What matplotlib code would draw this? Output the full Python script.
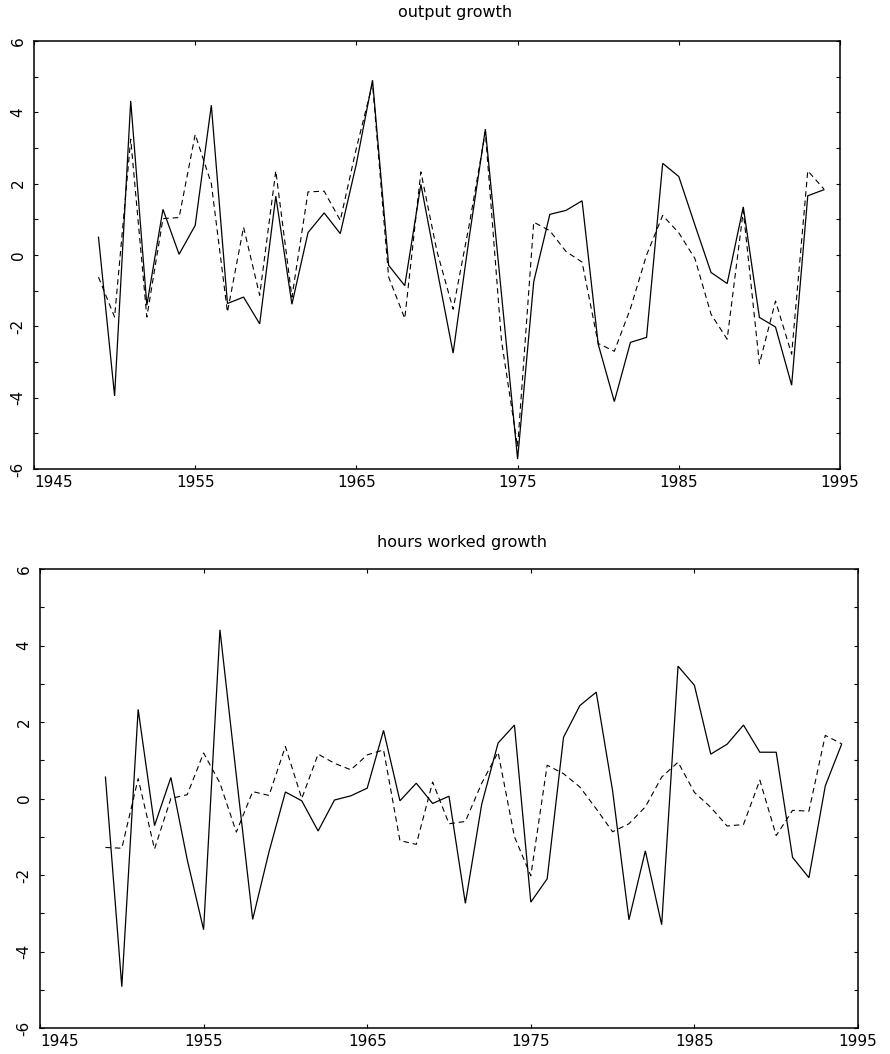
import matplotlib
matplotlib.use("Agg")
import matplotlib.pyplot as plt
import numpy as np

years = list(range(1949, 1995))

output_solid = [0.50, -3.95, 4.32, -1.41, 1.28, 0.02, 0.83, 4.20, -1.36, -1.18,
                -1.93, 1.65, -1.38, 0.63, 1.18, 0.60, 2.56, 4.90, -0.29, -0.86,
                1.98, -0.40, -2.75, 0.50, 3.53, -1.10, -5.72, -0.75, 1.14, 1.25,
                1.52, -2.50, -4.11, -2.45, -2.31, 2.57, 2.20, 0.84, -0.49, -0.80,
                1.35, -1.75, -2.02, -3.65, 1.66, 1.83]
output_dashed = [-0.62, -1.74, 3.25, -1.74, 1.02, 1.05, 3.38, 2.00, -1.60, 0.78,
                 -1.13, 2.36, -1.18, 1.77, 1.79, 0.97, 3.00, 4.80, -0.62, -1.78,
                 2.33, 0.10, -1.52, 0.85, 3.45, -2.40, -5.38, 0.92, 0.68, 0.10,
                 -0.20, -2.48, -2.70, -1.50, 0.00, 1.11, 0.62, -0.10, -1.66, -2.36,
                 1.24, -3.05, -1.29, -2.78, 2.36, 1.85]
hours_solid = [0.56, -4.92, 2.33, -0.71, 0.55, -1.60, -3.43, 4.41, 0.60, -3.16,
               -1.39, 0.17, -0.06, -0.85, -0.04, 0.07, 0.27, 1.78, -0.06, 0.40,
               -0.13, 0.06, -2.74, -0.15, 1.45, 1.92, -2.71, -2.10, 1.60, 2.43,
               2.78, 0.20, -3.17, -1.37, -3.30, 3.46, 2.96, 1.16, 1.42, 1.92,
               1.21, 1.21, -1.54, -2.07, 0.33, 1.42]
hours_dashed = [-1.28, -1.30, 0.52, -1.32, 0.00, 0.10, 1.19, 0.40, -0.88, 0.18,
                0.08, 1.36, 0.00, 1.16, 0.92, 0.75, 1.14, 1.27, -1.10, -1.20,
                0.43, -0.66, -0.60, 0.40, 1.21, -1.00, -2.02, 0.87, 0.65, 0.30,
                -0.27, -0.87, -0.66, -0.22, 0.56, 0.95, 0.16, -0.23, -0.72, -0.68,
                0.48, -0.97, -0.31, -0.33, 1.65, 1.43]

titles = ["output growth", "hours worked growth"]
xticks = [1945, 1955, 1965, 1975, 1985, 1995]
yticks = list(range(-6, 7))

W, H = 890, 1054
fig = plt.figure(figsize=(W / 100, H / 100), dpi=100)
plt.rcParams['font.family'] = ['DejaVu Sans']

# axes rectangles in pixel coordinates (left, right, top, bottom)
rects = [(34, 840, 41, 469), (40, 858, 569, 1028)]
title_pos = [(455, 13), (462, 542)]
panels = [(output_solid, output_dashed), (hours_solid, hours_dashed)]

for (l, r, t, b), (solid, dashed), title, (tx, ty) in zip(rects, panels, titles, title_pos):
    ax = fig.add_axes([l / W, 1 - b / H, (r - l) / W, (b - t) / H])
    ax.plot(years, solid, color='black', lw=0.9, solid_joinstyle='miter')
    ax.plot(years, dashed, color='black', lw=0.8, dashes=(5, 3.5))
    ax.set_xlim(1945, 1995)
    ax.set_ylim(-6, 6)
    ax.set_xticks(xticks)
    ax.set_xticklabels([str(x) for x in xticks])
    ax.set_yticks(yticks)
    ax.set_yticklabels([str(v) if v % 2 == 0 else '' for v in yticks])
    ax.tick_params(direction='in', top=True, right=True, length=3, width=0.8,
                   labelsize=11, colors='black')
    ax.tick_params(axis='y', labelrotation=90, pad=6)
    ax.tick_params(axis='x', pad=4)
    for lab in ax.get_yticklabels():
        lab.set_va('center')
    ax.get_xticklabels()[0].set_ha('left')
    for sp in ax.spines.values():
        sp.set_linewidth(1.1)
    fig.text(tx / W, 1 - ty / H, title, ha='center', va='center', fontsize=11.5)

fig.savefig("out.png", dpi=100)
